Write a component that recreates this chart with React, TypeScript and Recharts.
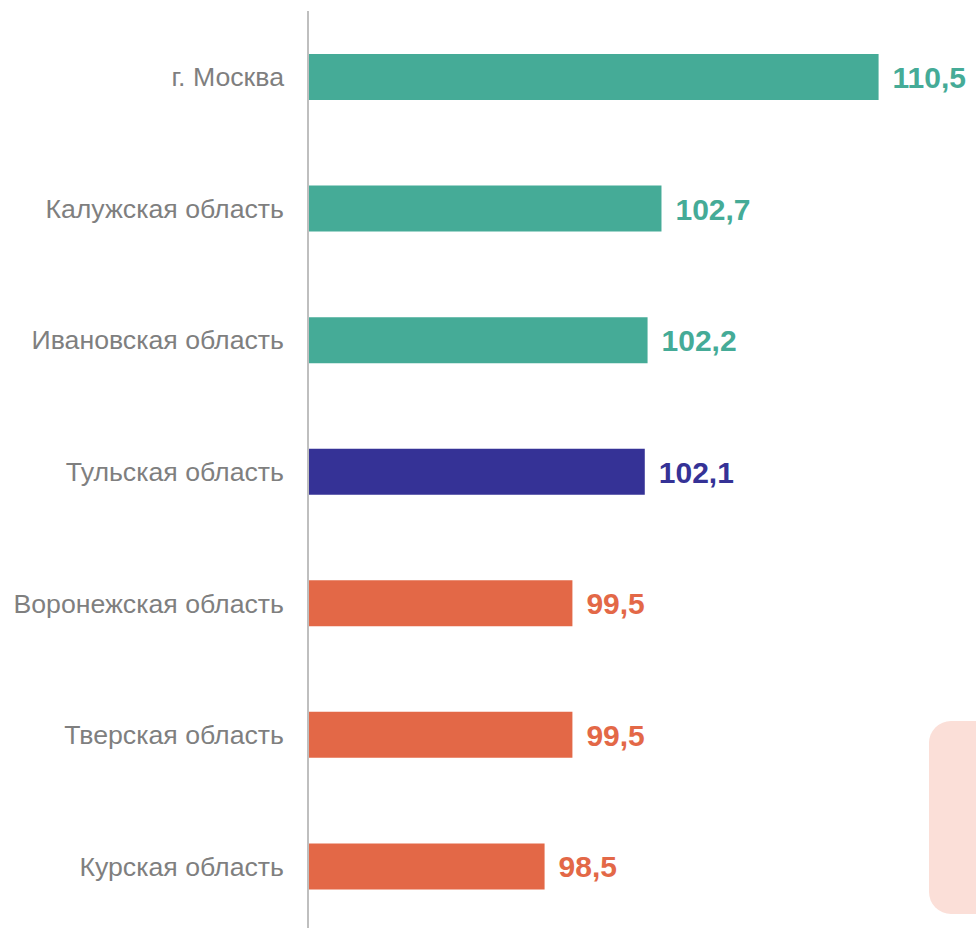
import { Bar, BarChart, Cell, LabelList, XAxis, YAxis } from "recharts"

const regions = [
  "г. Москва",
  "Калужская область",
  "Ивановская область",
  "Тульская область",
  "Воронежская область",
  "Тверская область",
  "Курская область",
]
const values = [110.5, 102.7, 102.2, 102.1, 99.5, 99.5, 98.5]
const groups = ["up", "up", "up", "self", "down", "down", "down"]

const colors: Record<string, string> = {
  up: "#45ab97",
  self: "#353296",
  down: "#e36847",
}

const data = regions.map((name, i) => ({
  name,
  value: values[i],
  group: groups[i],
}))

const fmt = (v: number) => v.toFixed(1).replace(".", ",")

const ValueLabel = (props: any) => {
  const { x, y, width, height, value, index } = props
  return (
    <text
      x={x + width + 14}
      y={y + height / 2}
      dy={11}
      fill={colors[groups[index]]}
      fontSize={30}
      fontWeight="bold"
      fontFamily="'Liberation Sans', Arial, sans-serif"
    >
      {fmt(value)}
    </text>
  )
}

export default function App() {
  return (
    <div
      style={{
        position: "absolute",
        left: 0,
        top: 0,
        width: 976,
        height: 928,
        overflow: "hidden",
        background: "#fff",
      }}
    >
      <div
        style={{
          position: "absolute",
          left: 929,
          top: 721,
          width: 80,
          height: 193,
          borderRadius: 22,
          background: "#fbdfd8",
        }}
      />
      <BarChart
        width={976}
        height={940}
        data={data}
        layout="vertical"
        margin={{ top: 11, right: 0, bottom: 8, left: 0 }}
        style={{ position: "absolute", left: 0, top: 0 }}
      >
        <XAxis type="number" domain={[90, 114]} hide />
        <YAxis
          type="category"
          dataKey="name"
          width={308}
          tickLine={false}
          tickSize={0}
          tickMargin={24}
          axisLine={{ stroke: "#bfbfbf", strokeWidth: 2 }}
          tick={{
            fill: "#7f7f7f",
            fontSize: 26.7,
            fontFamily: "'Liberation Sans', Arial, sans-serif",
          }}
        />
        <Bar dataKey="value" barSize={46} isAnimationActive={false}>
          {data.map((d) => (
            <Cell key={d.name} fill={colors[d.group]} />
          ))}
          <LabelList dataKey="value" content={ValueLabel} />
        </Bar>
      </BarChart>
    </div>
  )
}
